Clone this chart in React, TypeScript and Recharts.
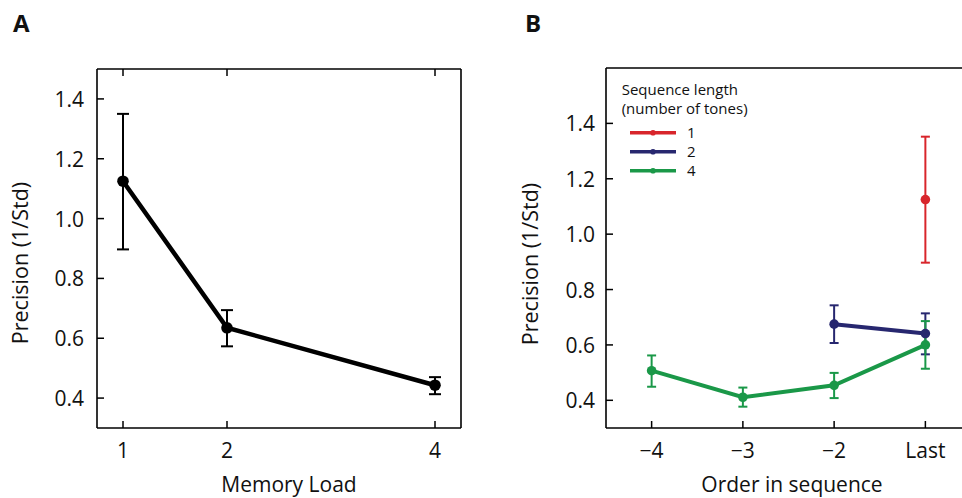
import React from 'react';
import { LineChart, Line, XAxis, YAxis, ErrorBar, Legend } from 'recharts';

const FONT = '"Open Sans", "DejaVu Sans", sans-serif';
const INK = '#111';

// ---------- Panel A data ----------
const memoryLoads = [1, 2, 4];
const precisionA = [1.125, 0.635, 0.443];
const errLowA = [0.897, 0.573, 0.413];
const errHighA = [1.35, 0.694, 0.47];
const precisionTicks = [0.4, 0.6, 0.8, 1.0, 1.2, 1.4];

// ---------- Panel B data ----------
const orderPositions = [-4, -3, -2, -1];
const orderLabels = ['\u22124', '\u22123', '\u22122', 'Last'];

const len1Pos = [-1];
const len1Val = [1.125];
const len1Low = [0.897];
const len1High = [1.352];

const len2Pos = [-2, -1];
const len2Val = [0.675, 0.641];
const len2Low = [0.607, 0.566];
const len2High = [0.743, 0.714];

const len4Pos = [-4, -3, -2, -1];
const len4Val = [0.507, 0.411, 0.454, 0.6];
const len4Low = [0.449, 0.377, 0.408, 0.514];
const len4High = [0.562, 0.446, 0.499, 0.686];

const legendLabels = ['1', '2', '4'];
const seriesColors = ['#d8252b', '#27276f', '#1a9848'];

const buildRows = (xs: number[], ys: number[], lo: number[], hi: number[]) =>
  xs.map((x, i) => ({ x, y: ys[i], err: [ys[i] - lo[i], hi[i] - ys[i]] }));

const rowsA = buildRows(memoryLoads, precisionA, errLowA, errHighA);
const rowsLen1 = buildRows(len1Pos, len1Val, len1Low, len1High);
const rowsLen2 = buildRows(len2Pos, len2Val, len2Low, len2High);
const rowsLen4 = buildRows(len4Pos, len4Val, len4Low, len4High);

const TICK_LEN = 7;
const axisLineStyle = { stroke: '#000', strokeWidth: 1.6 };

const makeBottomTick = (fmt: (v: number) => string) => (props: any) => {
  const { x, y, payload } = props;
  return (
    <g>
      <line x1={x} x2={x} y1={y} y2={y - TICK_LEN} stroke="#000" strokeWidth={1.5} />
      <text x={x} y={y + 30} textAnchor="middle" fontFamily={FONT} fontSize={21} fill={INK}>
        {fmt(payload.value)}
      </text>
    </g>
  );
};

const TopTick = (props: any) => {
  const { x, y } = props;
  return <line x1={x} x2={x} y1={y} y2={y + TICK_LEN} stroke="#000" strokeWidth={1.5} />;
};

const makeLeftTick = (gap: number) => (props: any) => {
  const { x, y, payload } = props;
  return (
    <g>
      <line x1={x} x2={x + TICK_LEN} y1={y} y2={y} stroke="#000" strokeWidth={1.5} />
      <text x={x - gap} y={y + 8} textAnchor="end" fontFamily={FONT} fontSize={21} fill={INK}>
        {Number(payload.value).toFixed(1)}
      </text>
    </g>
  );
};

const RightTick = (props: any) => {
  const { x, y } = props;
  return <line x1={x} x2={x - TICK_LEN} y1={y} y2={y} stroke="#000" strokeWidth={1.5} />;
};

const loadFmt = (v: number) => String(v);
const orderFmt = (v: number) => orderLabels[orderPositions.indexOf(v)] ?? String(v);

function PanelA() {
  return (
    <LineChart width={480} height={498} data={rowsA} margin={{ top: 0, right: 0, bottom: 0, left: 0 }}>
      <XAxis
        xAxisId="bottom"
        dataKey="x"
        type="number"
        domain={[0.75, 4.25]}
        ticks={memoryLoads}
        height={70}
        tickSize={0}
        tickMargin={0}
        tickLine={false}
        axisLine={axisLineStyle}
        tick={makeBottomTick(loadFmt)}
      />
      <XAxis
        xAxisId="top"
        orientation="top"
        dataKey="x"
        type="number"
        domain={[0.75, 4.25]}
        ticks={memoryLoads}
        height={69}
        tickSize={0}
        tickMargin={0}
        tickLine={false}
        axisLine={axisLineStyle}
        tick={TopTick}
      />
      <YAxis
        yAxisId="left"
        type="number"
        domain={[0.3, 1.5]}
        ticks={precisionTicks}
        width={97}
        tickSize={0}
        tickMargin={0}
        tickLine={false}
        axisLine={axisLineStyle}
        tick={makeLeftTick(13)}
      />
      <YAxis
        yAxisId="right"
        orientation="right"
        type="number"
        domain={[0.3, 1.5]}
        ticks={precisionTicks}
        width={19}
        tickSize={0}
        tickMargin={0}
        tickLine={false}
        axisLine={axisLineStyle}
        tick={RightTick}
      />
      <Line
        xAxisId="bottom"
        yAxisId="left"
        dataKey="y"
        stroke="#000"
        strokeWidth={4.5}
        dot={{ r: 5.8, fill: '#000', stroke: '#000', strokeWidth: 0 }}
        isAnimationActive={false}
      >
        <ErrorBar dataKey="err" width={6} stroke="#000" strokeWidth={2} direction="y" />
      </Line>
    </LineChart>
  );
}

const SequenceLegend = () => (
  <svg width={200} height={100} style={{ display: 'block', overflow: 'visible' }}>
    <text x={0.7} y={16.7} fontFamily={FONT} fontSize={15} fill={INK}>Sequence length</text>
    <text x={0.7} y={35.5} fontFamily={FONT} fontSize={15} fill={INK}>(number of tones)</text>
    {legendLabels.map((lab, i) => {
      const cy = 54.7 + i * 19;
      return (
        <g key={lab}>
          <line x1={9} x2={55} y1={cy} y2={cy} stroke={seriesColors[i]} strokeWidth={3.6} />
          <circle cx={32} cy={cy} r={2.8} fill={seriesColors[i]} />
          <text x={66} y={cy + 5.3} fontFamily={FONT} fontSize={15} fill={INK}>{lab}</text>
        </g>
      );
    })}
  </svg>
);

function PanelB() {
  const series = [rowsLen1, rowsLen2, rowsLen4];
  return (
    <LineChart width={502} height={498} margin={{ top: 0, right: 11, bottom: 0, left: 0 }}>
      <XAxis
        xAxisId="bottom"
        dataKey="x"
        type="number"
        domain={[-4.5, -0.5]}
        ticks={orderPositions}
        height={70}
        tickSize={0}
        tickMargin={0}
        tickLine={false}
        axisLine={axisLineStyle}
        tick={makeBottomTick(orderFmt)}
      />
      <XAxis
        xAxisId="top"
        orientation="top"
        dataKey="x"
        type="number"
        domain={[-4.5, -0.5]}
        ticks={orderPositions}
        height={68}
        tickSize={0}
        tickMargin={0}
        tickLine={false}
        axisLine={axisLineStyle}
        tick={TopTick}
      />
      <YAxis
        yAxisId="left"
        type="number"
        domain={[0.3, 1.6]}
        ticks={precisionTicks}
        width={126}
        tickSize={0}
        tickMargin={0}
        tickLine={false}
        axisLine={axisLineStyle}
        tick={makeLeftTick(11)}
      />
      <Legend
        layout="horizontal"
        verticalAlign="middle"
        align="center"
        content={() => <SequenceLegend />}
        wrapperStyle={{ position: 'absolute', left: 141, top: 78, width: 200, height: 100 }}
      />
      {series.map((rows, i) => (
        <Line
          key={legendLabels[i]}
          name={legendLabels[i]}
          data={rows}
          xAxisId="bottom"
          yAxisId="left"
          dataKey="y"
          stroke={seriesColors[i]}
          strokeWidth={4}
          dot={{ r: 4.8, fill: seriesColors[i], stroke: seriesColors[i], strokeWidth: 0 }}
          isAnimationActive={false}
        >
          <ErrorBar dataKey="err" width={4.5} stroke={seriesColors[i]} strokeWidth={2} direction="y" />
        </Line>
      ))}
    </LineChart>
  );
}

export default function App() {
  return (
    <div
      style={{
        position: 'absolute',
        left: 0,
        top: 0,
        width: 962,
        height: 498,
        overflow: 'hidden',
        background: '#fff',
      }}
    >
      <div style={{ position: 'absolute', left: 0, top: 0 }}>
        <PanelA />
      </div>
      <div style={{ position: 'absolute', left: 480, top: 0 }}>
        <PanelB />
      </div>
      <svg
        width={962}
        height={498}
        style={{ position: 'absolute', left: 0, top: 0, pointerEvents: 'none' }}
      >
        <text x={13} y={32} fontFamily={FONT} fontWeight={700} fontSize={24} fill={INK}>A</text>
        <text x={525} y={32} fontFamily={FONT} fontWeight={700} fontSize={24} fill={INK}>B</text>
        <text x={289} y={492} textAnchor="middle" fontFamily={FONT} fontSize={21} fill={INK}>Memory Load</text>
        <text x={792} y={492} textAnchor="middle" fontFamily={FONT} fontSize={21} fill={INK}>Order in sequence</text>
        <text
          x={28}
          y={263}
          textAnchor="middle"
          transform="rotate(-90 28 263)"
          fontFamily={FONT}
          fontSize={21.5}
          fill={INK}
        >
          Precision (1/Std)
        </text>
        <text
          x={538}
          y={264}
          textAnchor="middle"
          transform="rotate(-90 538 264)"
          fontFamily={FONT}
          fontSize={21.5}
          fill={INK}
        >
          Precision (1/Std)
        </text>
      </svg>
    </div>
  );
}
